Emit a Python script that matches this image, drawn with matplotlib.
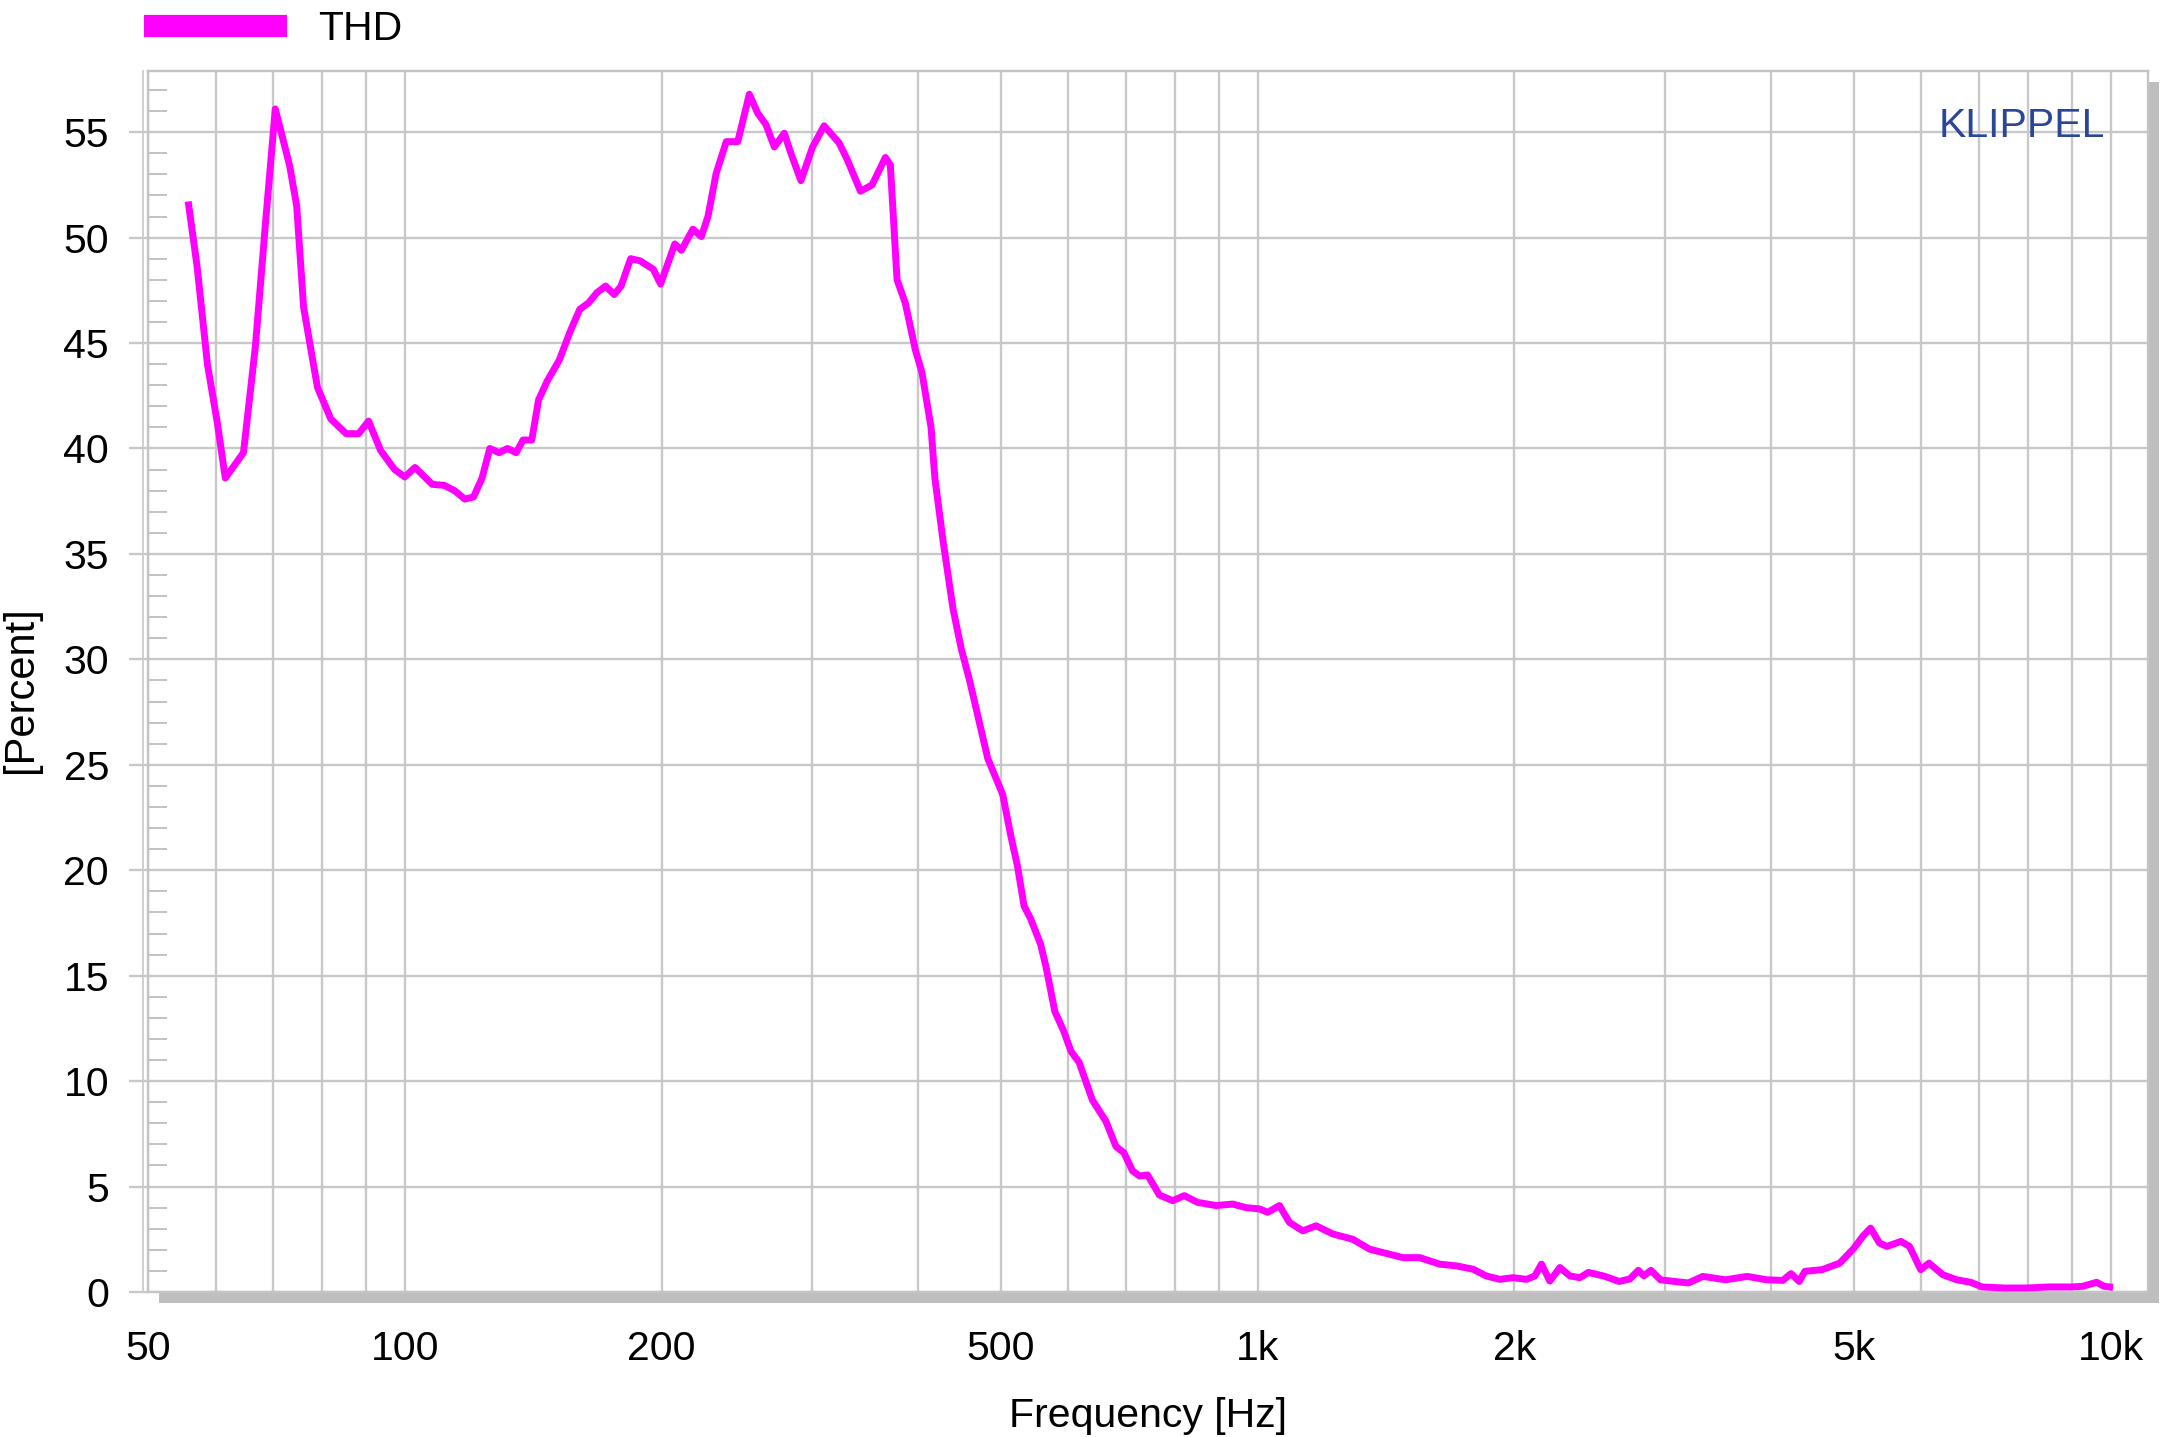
import matplotlib
matplotlib.use("Agg")
import matplotlib.pyplot as plt
from matplotlib.patches import Rectangle
from matplotlib.lines import Line2D

plt.rcParams['font.family'] = ['Liberation Sans', 'DejaVu Sans']

# THD curve
freq = [55.8, 57.1, 58.7, 60.3, 61.6, 64.7, 66.8, 68.7, 70.5, 73.3,
        74.7, 76.1, 79.0, 81.9, 85.4, 88.3, 90.7, 93.7, 97.3, 100.0,
        102.8, 107.7, 111.3, 114.4, 117.6, 120.4, 123.2, 125.8, 129.0, 132.0,
        135.1, 137.6, 140.9, 143.5, 146.9, 151.8, 156.1, 160.4, 164.2, 168.1,
        172.0, 176.0, 179.3, 184.0, 188.7, 195.6, 199.5, 207.3, 211.0, 217.7,
        222.7, 226.7, 231.8, 238.2, 245.7, 253.5, 259.3, 265.2, 271.2, 278.6,
        283.6, 291.4, 300.7, 310.2, 322.9, 330.2, 342.2, 353.1, 366.0, 370.9,
        377.7, 386.2, 396.7, 404.0, 414.0, 418.3, 427.7, 439.3, 449.2, 459.4,
        471.8, 482.5, 493.4, 502.3, 513.7, 522.8, 532.2, 541.7, 556.4, 564.8,
        578.3, 591.9, 604.3, 617.3, 640.0, 663.7, 682.0, 697.0, 713.0, 727.0,
        742.7, 766.8, 795.0, 820.2, 850.2, 893.5, 934.7, 969.0, 1004.5, 1027.4,
        1060.3, 1089.3, 1129.3, 1170.7, 1224.9, 1292.7, 1352.5, 1402.1, 1480.2, 1548.6,
        1634.4, 1709.7, 1788.6, 1853.8, 1921.9, 1992.6, 2065.8, 2112.9, 2151.3, 2200.3,
        2260.7, 2322.8, 2386.4, 2442, 2554, 2652, 2731, 2794, 2836, 2891,
        2966, 3080, 3199, 3325, 3535, 3750, 3948, 4127, 4219, 4314,
        4380, 4590, 4812, 5001, 5118, 5230, 5358, 5466, 5676, 5810,
        5988, 6124, 6356, 6598, 6853, 7067, 7503, 7970, 8467, 8996,
        9272, 9629, 9821, 9970]
thd = [51.55, 48.6, 44.0, 41.2, 38.6, 39.8, 44.8, 50.8, 56.1, 53.4,
       51.5, 46.7, 42.9, 41.4, 40.7, 40.7, 41.3, 39.9, 39.0, 38.65,
       39.1, 38.3, 38.25, 38.0, 37.6, 37.7, 38.6, 40.0, 39.8, 40.0,
       39.8, 40.4, 40.4, 42.3, 43.2, 44.2, 45.5, 46.6, 46.9, 47.4,
       47.7, 47.3, 47.7, 49.0, 48.9, 48.5, 47.8, 49.7, 49.4, 50.4,
       50.05, 51.0, 53.05, 54.55, 54.55, 56.8, 55.9, 55.35, 54.3, 54.95,
       54.0, 52.7, 54.3, 55.3, 54.5, 53.7, 52.2, 52.5, 53.8, 53.45,
       48.0, 46.9, 44.7, 43.6, 41.0, 38.6, 35.6, 32.4, 30.5, 29.0,
       27.0, 25.3, 24.35, 23.6, 21.6, 20.2, 18.3, 17.7, 16.5, 15.4,
       13.3, 12.4, 11.4, 10.9, 9.1, 8.1, 6.9, 6.6, 5.75, 5.5,
       5.55, 4.6, 4.33, 4.57, 4.25, 4.1, 4.17, 4.0, 3.94, 3.78,
       4.1, 3.3, 2.9, 3.14, 2.75, 2.5, 2.03, 1.87, 1.63, 1.63,
       1.32, 1.24, 1.08, 0.76, 0.6, 0.68, 0.6, 0.76, 1.32, 0.52,
       1.16, 0.76, 0.68, 0.93, 0.74, 0.5, 0.62, 1.03, 0.77, 1.03,
       0.58, 0.5, 0.43, 0.74, 0.58, 0.74, 0.58, 0.55, 0.87, 0.5,
       0.98, 1.06, 1.37, 2.08, 2.63, 3.03, 2.32, 2.16, 2.4, 2.16,
       1.06, 1.37, 0.82, 0.58, 0.46, 0.24, 0.19, 0.19, 0.24, 0.24,
       0.27, 0.46, 0.27, 0.24]

xticks = [50, 100, 200, 500, 1000, 2000, 5000, 10000]
xticklabels = ['50', '100', '200', '500', '1k', '2k', '5k', '10k']
xminor = [60, 70, 80, 90, 300, 400, 600, 700, 800, 900,
          3000, 4000, 6000, 7000, 8000, 9000]
yticks = list(range(0, 56, 5))

W, H = 2176, 1437
fig = plt.figure(figsize=(W / 100, H / 100), dpi=100)
left, right, bottom, top = 148 / W, 2148 / W, 1 - 1292 / H, 1 - 71 / H
ax = fig.add_axes([left, bottom, right - left, top - bottom])

# drop shadow behind the plot box
sh = 11
fig.add_artist(Rectangle((left + sh / W, bottom - sh / H), right - left, top - bottom,
                         transform=fig.transFigure, facecolor='#bebebe',
                         edgecolor='none', zorder=-1))
# second thin line just left of the y axis (double rule in the original)
fig.add_artist(Line2D([left - 5 / W] * 2, [bottom, top], transform=fig.transFigure,
                      color='#cccccc', lw=1.3))

gridc = '#c8c8c8'
fs = 29.5
ax.plot(freq, thd, color='#ff00ff', lw=5, label='THD', zorder=3,
        solid_joinstyle='round')

ax.set_xscale('log')
ax.set_xlim(50, 11060)
ax.set_ylim(0, 57.9)
ax.set_xticks(xticks)
ax.set_xticklabels(xticklabels)
ax.set_xticks(xminor, minor=True)
ax.xaxis.set_minor_formatter(plt.NullFormatter())
ax.set_yticks(yticks)
ax.set_yticks(range(0, 58), minor=True)

ax.grid(True, axis='x', which='both', color=gridc, lw=1.7)
ax.grid(True, axis='y', which='major', color=gridc, lw=1.7)
ax.set_axisbelow(True)

ax.tick_params(axis='x', which='both', length=0, pad=27, labelsize=fs)
ax.tick_params(axis='y', which='major', length=14, width=1.7, color=gridc,
               direction='out', pad=14, labelsize=fs)
ax.tick_params(axis='y', which='minor', length=14, width=1.2, color='#b8b8b8',
               direction='in')
for s in ax.spines.values():
    s.set_color('#c4c4c4')
    s.set_linewidth(1.7)

fig.text((left + right) / 2, 1 - 1416 / H, 'Frequency [Hz]', fontsize=fs,
         ha='center', va='center')
fig.text(21 / W, 1 - 690 / H, '[Percent]', fontsize=30, rotation=90,
         ha='center', va='center')
ax.text(2105 / W, 1 - 126 / H, 'KLIPPEL', transform=fig.transFigure,
        fontsize=fs, color='#2b4696', ha='right', va='center')

leg = fig.legend(loc='center left', bbox_to_anchor=(144 / W, 1 - 29 / H),
                 frameon=False, fontsize=fs, handlelength=3.5,
                 handletextpad=0.75, borderpad=0, borderaxespad=0)
for ln in leg.get_lines():
    ln.set_linewidth(16)
    ln.set_solid_capstyle('butt')

fig.savefig('out.png', dpi=100)
